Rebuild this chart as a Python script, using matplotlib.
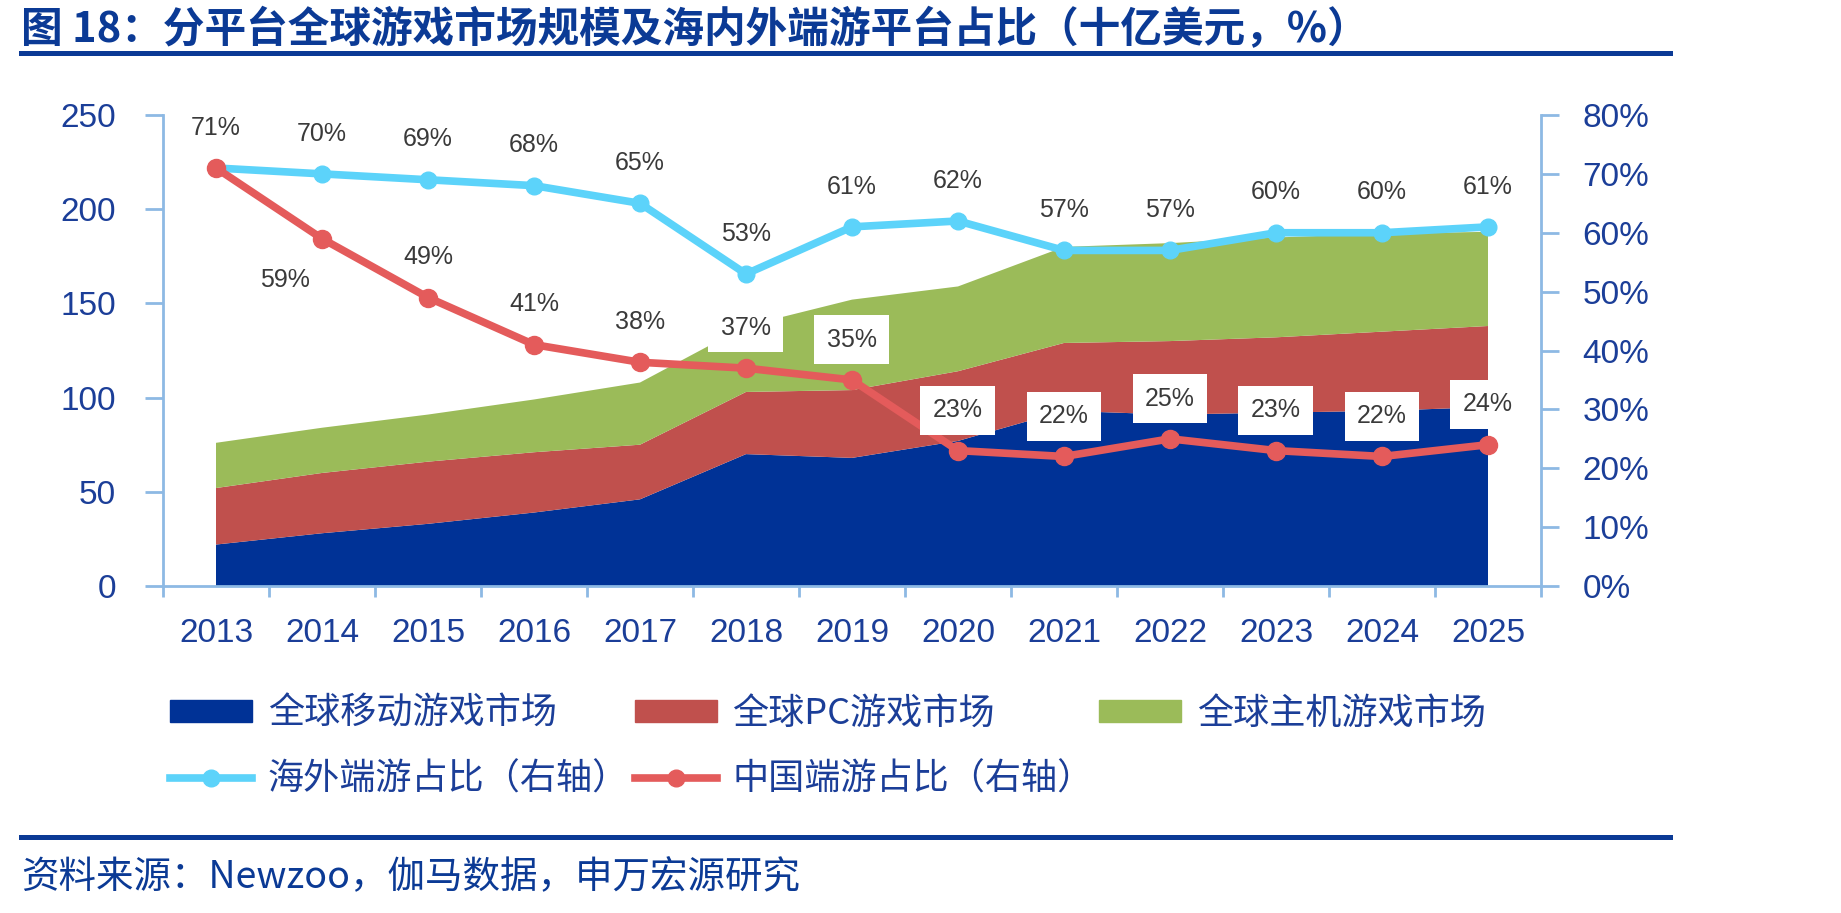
import numpy as np
import matplotlib
matplotlib.use('Agg')
import matplotlib.pyplot as plt
from matplotlib.ticker import FuncFormatter, MultipleLocator
from matplotlib.lines import Line2D
from matplotlib.patches import Patch

# 数据（十亿美元 / %）
years = ['2013', '2014', '2015', '2016', '2017', '2018', '2019',
         '2020', '2021', '2022', '2023', '2024', '2025']
mobile = [22, 28, 33, 39, 46, 70, 68, 77, 93, 91, 92, 93, 95]
pc = [30, 32, 33, 32, 29, 33, 36, 37, 36, 39, 40, 42, 43]
console = [24, 24, 25, 28, 33, 35, 48, 45, 51, 52, 53, 52, 50]
overseas_share = [71, 70, 69, 68, 65, 53, 61, 62, 57, 57, 60, 60, 61]
china_share = [71, 59, 49, 41, 38, 37, 35, 23, 22, 25, 23, 22, 24]

labels = ['全球移动游戏市场', '全球PC游戏市场', '全球主机游戏市场',
          '海外端游占比（右轴）', '中国端游占比（右轴）']

CJK = ['Noto Sans CJK SC', 'DejaVu Sans']
NUM = ['Liberation Sans', 'DejaVu Sans']
plt.rcParams['font.family'] = CJK

c_mobile = '#003296'
c_pc = '#C0504D'
c_console = '#9BBB59'
c_over = '#5CD3FA'
c_china = '#E45B5B'
c_axis = '#8DB9E4'
c_text = '#1B3E98'
c_title = '#0B3A95'

fig = plt.figure(figsize=(18.41, 9.13), dpi=100)
ax = fig.add_axes([163 / 1841, 1 - 586 / 913, 1378 / 1841, 471 / 913])
x = np.arange(len(years))

ax.stackplot(x, mobile, pc, console, colors=[c_mobile, c_pc, c_console],
             linewidth=0)
ax.set_xlim(-0.5, len(years) - 0.5)
ax.set_ylim(0, 250)
ax.yaxis.set_major_locator(MultipleLocator(50))

# x轴：刻度在类别之间，标签在中间
ax.set_xticks(np.arange(-0.5, len(years)), minor=False)
ax.set_xticklabels([])
ax.set_xticks(x, minor=True)
ax.set_xticklabels(years, minor=True)
ax.tick_params(axis='x', which='major', length=8, width=2, color=c_axis)
ax.tick_params(axis='x', which='minor', length=0, pad=23,
               labelsize=24, labelcolor=c_text)
ax.tick_params(axis='y', length=13, width=2, color=c_axis, pad=21,
               labelsize=24, labelcolor=c_text)
for t in ax.get_xticklabels(minor=True) + ax.get_yticklabels():
    t.set_family(NUM)

for s in ['top', 'right']:
    ax.spines[s].set_visible(False)
for s in ['left', 'bottom']:
    ax.spines[s].set_color(c_axis)
    ax.spines[s].set_linewidth(2)

# 右轴：占比
ax2 = ax.twinx()
ax2.set_ylim(0, 80)
ax2.yaxis.set_major_locator(MultipleLocator(10))
ax2.yaxis.set_major_formatter(FuncFormatter(lambda v, p: f'{v:.0f}%'))
ax2.tick_params(axis='y', length=13, width=2, color=c_axis, pad=17,
                labelsize=24, labelcolor=c_text)
for t in ax2.get_yticklabels():
    t.set_family(NUM)
for s in ['top', 'left', 'bottom']:
    ax2.spines[s].set_visible(False)
ax2.spines['right'].set_color(c_axis)
ax2.spines['right'].set_linewidth(2)

ax2.plot(x, overseas_share, color=c_over, lw=5.5, marker='o', ms=12,
         solid_capstyle='round')
ax2.plot(x, china_share, color=c_china, lw=5.5, marker='o', ms=13,
         solid_capstyle='round')

# 数据标签
for i, v in enumerate(overseas_share):
    ax2.annotate(f'{v}%', (i, v), xytext=(0, 29), textcoords='offset points',
                 ha='center', va='center', fontsize=18, color='#3A3A3A',
                 family=NUM, zorder=6)
for i, v in enumerate(china_share):
    if i == 0:
        continue
    off = (-27, -30) if i == 1 else (0, 29)
    box = dict(boxstyle='square,pad=0.5', fc='white', ec='none') if i >= 5 else None
    ax2.annotate(f'{v}%', (i, v), xytext=off, textcoords='offset points',
                 ha='center', va='center', fontsize=18, color='#3A3A3A',
                 family=NUM, zorder=6, bbox=box)

# 图例
handles = [
    Patch(color=c_mobile),
    Line2D([], [], color=c_over, lw=5.5, marker='o', ms=12),
    Patch(color=c_pc),
    Line2D([], [], color=c_china, lw=5.5, marker='o', ms=12),
    Patch(color=c_console),
]
leg_labels = [labels[0], labels[3], labels[1], labels[4], labels[2]]
leg = fig.legend(handles, leg_labels, ncol=3, loc='upper left',
                 bbox_to_anchor=(170 / 1841, 1 - 696 / 913), frameon=False,
                 fontsize=26, handlelength=2.27, handleheight=0.55,
                 handletextpad=0.44, columnspacing=0.15, labelspacing=0.82,
                 borderpad=0, borderaxespad=0)
for t in leg.get_texts():
    t.set_color(c_text)

# 标题与来源
fig.text(21 / 1841, 1 - 30 / 913,
         '图 18：分平台全球游戏市场规模及海内外端游平台占比（十亿美元，%）',
         fontsize=30, weight='bold', color=c_title, va='center', ha='left')
fig.add_artist(Line2D([21 / 1841, 1670 / 1841], [1 - 53 / 913] * 2,
                      color=c_title, lw=3.6))
fig.add_artist(Line2D([21 / 1841, 1670 / 1841], [1 - 837 / 913] * 2,
                      color=c_title, lw=3.6))
fig.text(21 / 1841, 1 - 878 / 913, '资料来源：Newzoo，伽马数据，申万宏源研究',
         fontsize=27, color=c_title, va='center', ha='left')

fig.savefig('out.png', dpi=100)
